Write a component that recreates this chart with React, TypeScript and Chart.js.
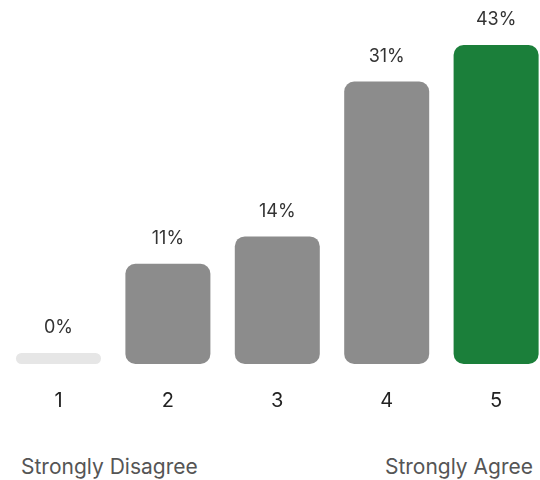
import React, { useEffect, useRef } from "react";
import { Chart, registerables } from "chart.js";

Chart.register(...registerables);

const categories = ["1", "2", "3", "4", "5"];
const percentValues = [0, 11, 14, 31, 43];
const Y_MAX = 35; // bars taller than this are capped at the top of the plot
const barColors = ["#e6e6e6", "#8c8c8c", "#8c8c8c", "#8c8c8c", "#1b7f3a"];
const leftCaption = "Strongly Disagree";
const rightCaption = "Strongly Agree";

const FONT = "Inter, 'Noto Sans', sans-serif";

const valueLabelPlugin = {
  id: "valueLabels",
  afterDatasetsDraw(chart: any) {
    const ctx = chart.ctx;
    const meta = chart.getDatasetMeta(0);
    ctx.save();
    ctx.font = `18px ${FONT}`;
    ctx.fillStyle = "#333333";
    ctx.textAlign = "center";
    ctx.textBaseline = "middle";
    meta.data.forEach((bar: any, i: number) => {
      ctx.fillText(`${percentValues[i]}%`, bar.x, bar.y - 25);
    });
    ctx.restore();
  },
};

export default function App() {
  const canvasRef = useRef<HTMLCanvasElement | null>(null);

  useEffect(() => {
    const canvas = canvasRef.current;
    if (!canvas) return;
    const chart = new Chart(canvas, {
      type: "bar",
      data: {
        labels: categories,
        datasets: [
          {
            data: percentValues.map((v) => Math.min(v, Y_MAX)),
            backgroundColor: barColors,
            borderRadius: 10,
            borderSkipped: false,
            minBarLength: 11,
            categoryPercentage: 1,
            barPercentage: 0.777,
          },
        ],
      },
      options: {
        responsive: false,
        animation: false,
        layout: { padding: { top: 45, left: 3.8, right: 9.2, bottom: 0 } },
        plugins: {
          legend: { display: false },
          tooltip: { enabled: false },
          title: { display: false },
        },
        scales: {
          x: {
            grid: { display: false, drawTicks: false },
            border: { display: false },
            ticks: {
              color: "#222222",
              font: { family: FONT, size: 20 },
              padding: 25,
            },
          },
          y: {
            display: false,
            min: 0,
            max: Y_MAX,
          },
        },
      },
      plugins: [valueLabelPlugin],
    });
    return () => chart.destroy();
  }, []);

  const captionStyle: React.CSSProperties = {
    position: "absolute",
    top: 455,
    fontFamily: FONT,
    fontSize: 21,
    color: "#555555",
    whiteSpace: "nowrap",
    lineHeight: "24px",
  };

  return (
    <div
      style={{
        position: "fixed",
        left: 0,
        top: 0,
        width: 540,
        height: 480,
        overflow: "hidden",
        background: "#ffffff",
      }}
    >
      <canvas
        ref={canvasRef}
        width={560}
        height={438}
        style={{ position: "absolute", left: 0, top: 0, width: 560, height: 438 }}
      />
      <div style={{ ...captionStyle, left: 21 }}>{leftCaption}</div>
      <div style={{ ...captionStyle, right: 7 }}>{rightCaption}</div>
    </div>
  );
}
